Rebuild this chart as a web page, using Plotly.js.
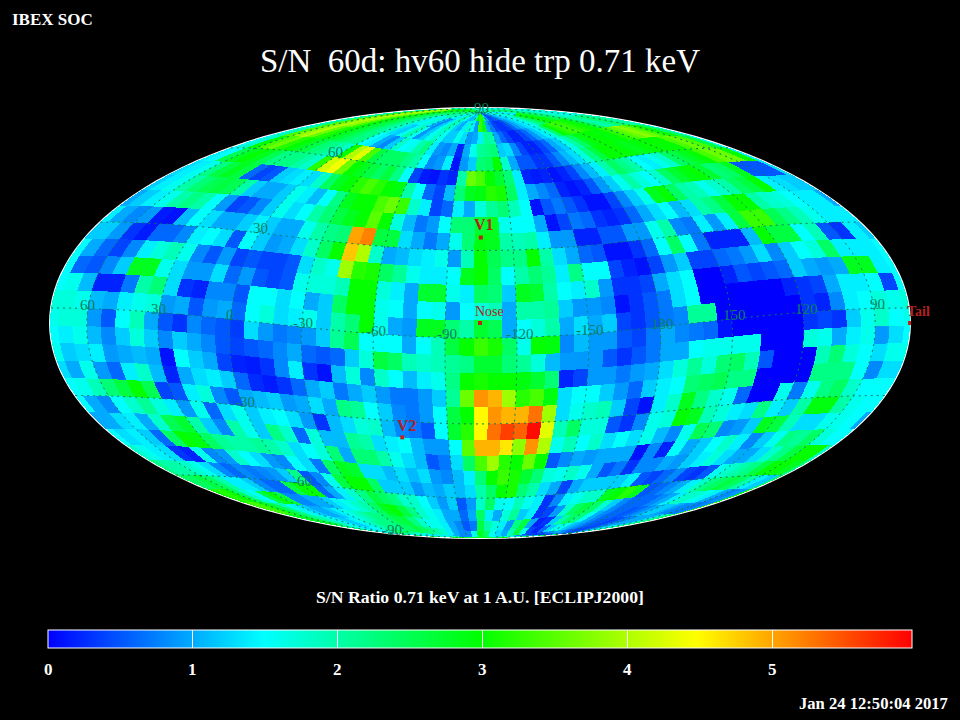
<!DOCTYPE html>
<html><head><meta charset="utf-8">
<script src="https://cdn.plot.ly/plotly-3.0.1.min.js"></script>
<style>
html,body{margin:0;padding:0;background:#000}
path.choroplethlocation{shape-rendering:crispEdges}
</style></head><body><div id="chart" style="width:960px;height:720px"></div>
<script>
// S/N per 6-degree sky bin. Rows run north to south; columns run left to right on the map.
const lat84=[1.6,1.8,2.2,2.5,2.8,3.0,3.0,3.0,2.8,2.6,2.4,2.4,2.2,2.2,2.0,2.0,2.0,1.8,1.6,1.4,1.4,1.8,2.0,2.0,1.5,1.2,1.0,1.2,2.0,2.8,3.3,3.2,2.2,1.0,0.5,0.4,0.5,0.6,0.8,1.0,1.2,1.2,1.4,1.4,1.6,1.8,1.8,1.6,1.4,1.4,1.6,2.0,2.2,2.4,2.4,2.2,2.0,1.8,1.6,1.6];
const lat78=[1.8,2.2,3.4,3.8,4.0,3.8,3.4,3.0,2.8,2.6,2.4,2.2,2.0,1.8,1.4,1.6,1.8,1.4,1.0,0.8,1.2,1.6,2.0,1.8,1.2,1.0,1.4,1.8,1.4,0.9,3.3,2.8,1.0,0.7,0.4,0.3,0.3,0.4,0.6,0.9,1.1,1.3,1.4,1.5,1.8,2.2,2.4,2.8,3.0,3.0,2.8,2.5,2.4,2.2,2.0,1.8,1.6,1.7,1.6,1.6];
const lat72=[1.8,2.2,3.4,3.8,4.0,3.8,3.4,3.0,2.8,2.6,2.4,2.2,2.0,1.8,1.3,1.2,1.6,2.0,1.6,0.9,1.2,1.6,1.8,1.6,1.2,1.2,1.6,1.3,0.9,1.0,1.4,2.1,2.0,1.0,0.6,0.4,0.2,0.2,0.4,0.6,0.9,1.2,1.4,1.7,2.4,3.0,3.2,3.3,3.3,3.2,3.1,3.0,2.8,2.4,2.0,2.0,2.2,2.4,2.2,2.0];
const lat66=[1.6,2.0,3.4,3.8,4.0,3.6,3.2,3.0,2.8,2.6,2.4,2.2,2.2,1.5,1.4,1.0,0.8,1.2,1.8,1.5,1.6,2.0,2.2,1.4,0.9,0.8,1.0,0.2,1.0,1.6,2.1,2.2,2.3,1.2,1.3,0.8,0.4,0.2,0.2,0.4,0.6,1.0,1.2,1.6,2.0,2.4,2.8,3.0,3.0,3.0,2.9,3.0,3.2,3.4,3.6,3.8,3.6,3.3,3.0,2.4];
const lat60=[1.5,1.8,3.0,3.4,3.6,3.2,3.0,2.8,2.6,2.3,2.2,2.0,1.8,3.0,4.0,4.3,3.4,2.6,2.4,2.4,2.4,2.2,2.0,1.5,0.8,0.9,1.4,0.1,0.9,1.2,2.3,2.4,3.0,1.8,1.0,0.5,0.5,0.3,0.3,0.5,0.8,1.1,1.3,1.7,2.2,2.6,3.0,3.0,3.0,2.9,2.8,2.9,3.0,3.0,3.0,3.0,3.4,3.6,3.4,2.6];
const lat54=[1.4,1.5,2.5,2.8,3.0,2.8,2.5,2.2,2.2,2.2,2.0,1.8,3.2,4.2,4.4,3.6,3.0,2.8,2.6,2.4,2.6,2.2,1.5,0.4,0.15,0.1,0.3,0.2,2.0,3.6,3.4,3.0,2.7,2.3,1.4,0.2,0.15,0.2,0.1,0.2,0.4,0.8,1.1,1.4,2.0,2.4,2.2,2.0,1.5,1.4,1.6,1.8,2.4,2.6,2.8,3.0,3.4,3.6,3.6,3.0];
const lat48=[1.3,1.4,1.6,2.2,2.6,2.8,2.6,0.6,0.4,0.5,1.2,1.3,1.4,1.3,1.8,2.4,2.8,3.0,3.2,3.4,3.2,3.0,2.9,2.0,1.5,0.6,0.4,1.1,2.3,2.8,2.9,3.2,3.1,2.4,1.4,1.0,0.8,0.6,0.2,0.1,0.2,0.5,0.9,1.2,1.6,2.0,1.7,1.5,1.8,2.4,2.7,2.9,3.0,2.7,2.3,2.4,2.8,0.5,0.5,0.5];
const lat42=[1.2,1.4,1.6,2.0,2.3,2.5,2.6,2.5,2.0,1.2,1.0,1.0,1.2,1.6,1.4,1.1,1.5,2.2,2.8,3.0,3.0,3.4,3.6,3.3,1.8,1.4,0.4,0.6,1.4,1.0,1.7,2.1,2.3,1.9,1.5,0.1,0.5,0.7,0.5,0.3,0.1,0.1,0.4,0.8,1.2,1.6,2.8,3.0,2.4,2.0,1.9,1.6,1.8,2.0,2.4,2.6,3.0,1.4,1.3,1.2];
const lat36=[1.0,1.2,1.4,1.6,2.0,2.2,2.0,1.5,0.9,0.4,0.5,0.8,1.2,1.6,1.3,1.5,2.0,2.3,2.6,2.8,3.0,3.5,3.0,1.7,1.1,0.7,0.9,1.5,2.3,2.3,2.7,2.8,1.6,1.5,1.5,1.0,0.1,0.4,0.7,0.6,0.3,0.2,0.3,0.6,1.0,1.3,1.5,1.1,1.3,2.0,2.2,2.6,3.0,3.0,2.0,1.8,1.7,1.5,1.4,1.4];
const lat30=[1.4,1.0,0.8,0.9,0.15,0.1,1.1,1.5,1.3,1.0,1.0,1.2,1.4,1.2,1.0,1.0,1.6,2.0,2.2,2.3,5.0,5.2,2.6,2.6,1.3,1.0,0.7,1.0,1.6,2.3,2.9,2.8,2.0,1.9,2.0,1.4,0.9,0.9,0.2,0.2,0.5,0.5,0.9,0.9,1.6,2.0,0.8,0.7,1.4,0.9,1.4,2.6,3.3,3.3,2.5,2.2,1.9,1.6,1.4,1.4];
const lat24=[1.2,1.2,0.9,0.3,0.15,0.6,0.6,0.8,1.4,1.5,1.3,0.5,1.5,1.2,0.9,1.0,1.3,1.8,2.4,3.0,4.8,4.0,1.8,1.0,1.1,1.3,1.4,1.6,0.9,1.9,3.0,2.5,2.2,2.2,3.0,2.0,1.3,1.0,0.6,0.5,0.1,0.1,0.3,0.6,1.5,2.4,1.5,0.7,0.2,0.2,0.2,1.1,3.0,2.6,2.6,1.5,1.9,0.5,0.3,1.4];
const lat18=[1.5,1.0,0.6,0.4,0.8,1.4,1.7,1.9,1.6,0.8,0.5,0.9,0.4,0.5,0.4,0.4,0.5,1.3,1.8,1.6,3.9,3.2,3.1,2.4,2.1,1.6,1.4,1.4,1.5,2.8,3.0,2.4,1.5,2.0,2.3,2.1,1.4,2.2,1.5,1.5,0.4,0.2,0.1,0.4,0.9,1.2,0.4,0.4,0.6,0.7,0.9,1.3,0.8,1.2,1.5,1.7,2.4,1.4,1.4,1.4];
const lat12=[1.5,0.6,0.5,0.8,1.2,2.8,2.8,1.6,1.3,0.9,0.9,1.3,0.6,0.9,0.5,0.4,0.5,1.6,1.7,1.7,1.9,3.0,3.0,1.7,1.4,1.0,2.7,2.7,1.6,1.4,2.4,2.3,1.2,2.8,2.7,2.0,1.5,1.4,1.8,0.9,0.3,0.3,0.4,1.0,1.3,1.5,0.0,0.0,0.2,0.5,0.4,0.5,0.6,1.2,1.0,0.9,1.0,2.8,2.8,1.4];
const lat6=[1.5,1.6,1.1,0.2,0.2,0.7,2.0,2.3,1.3,0.3,0.2,0.8,0.8,0.5,1.5,1.5,1.3,1.5,1.0,1.2,2.4,3.0,3.0,1.6,1.5,1.0,1.5,1.6,0.9,1.5,1.7,1.9,1.0,2.0,2.0,2.1,1.2,0.9,0.9,0.8,0.1,0.3,0.5,0.7,1.3,1.5,0.0,0.0,0.0,0.0,0.0,0.0,0.2,0.3,0.4,1.0,1.4,1.4,1.5,0.4];
const lat0=[1.7,1.7,1.6,1.1,1.0,1.4,1.6,1.7,0.9,1.0,0.5,0.9,1.0,0.6,1.5,1.7,1.3,1.4,1.6,1.2,2.0,2.3,3.0,1.6,1.0,0.9,2.8,2.8,2.3,2.0,2.7,2.5,1.0,1.5,1.7,2.0,1.0,1.3,1.0,1.2,0.4,0.3,0.5,0.7,0.8,2.1,2.1,0.0,0.0,0.0,0.0,0.0,0.0,0.3,0.2,0.8,1.4,1.5,1.7,1.6];
const latM6=[1.6,1.7,1.7,0.9,0.5,1.5,1.9,1.0,0.5,0.3,0.8,0.6,0.5,0.35,1.3,0.9,0.7,0.8,0.9,1.2,2.1,2.5,1.5,1.5,1.5,1.0,1.5,1.9,2.6,3.0,3.3,3.1,2.4,1.6,3.0,2.9,0.8,1.1,0.9,0.9,0.5,0.4,0.7,1.0,0.8,0.7,0.6,0.1,0.0,0.0,0.0,0.0,0.0,0.3,0.4,0.3,1.2,1.6,1.8,1.5];
const latM12=[1.5,1.4,1.6,1.1,0.8,1.2,1.7,1.2,0.8,1.2,1.0,0.8,0.5,0.4,0.5,0.6,0.8,1.0,0.6,0.5,0.6,1.2,1.7,2.6,2.4,1.9,1.8,1.9,2.1,2.2,2.7,2.7,2.3,2.1,1.7,1.1,0.9,0.9,0.9,0.5,0.3,0.5,0.7,1.0,1.0,1.5,1.6,1.6,1.6,1.6,0.0,0.0,0.0,1.7,1.6,1.0,1.4,1.6,0.9,1.3];
const latM18=[1.6,1.2,1.3,1.4,0.9,1.0,1.1,1.0,0.1,1.5,1.2,1.0,0.4,0.2,0.15,0.3,0.8,1.4,0.3,0.1,1.1,1.7,0.8,1.8,1.5,1.1,1.4,1.6,2.2,3.0,3.1,3.0,3.0,2.9,2.7,2.3,0.2,0.4,0.9,0.9,0.7,0.9,1.0,1.3,1.7,2.1,1.7,2.3,2.4,1.9,0.5,0.0,0.0,0.0,1.9,2.3,1.7,1.5,1.3,1.6];
const latM24=[1.3,1.0,1.6,0.9,0.6,1.4,1.8,1.1,0.2,1.0,1.3,1.4,1.2,0.6,0.25,0.15,0.3,0.6,1.0,1.2,0.7,1.0,1.2,0.9,0.7,0.7,0.9,1.2,2.1,3.6,5.1,4.9,3.9,3.2,3.4,2.9,1.3,1.5,1.5,1.2,0.9,0.6,1.2,1.4,1.5,2.3,2.4,2.5,2.2,2.2,0.0,0.0,0.0,0.0,2.2,2.2,2.2,1.5,0.8,1.3];
const latM30=[1.5,1.6,1.9,2.3,2.6,3.0,2.5,0.4,0.5,1.4,1.7,0.8,0.5,1.0,1.1,1.2,0.9,1.0,1.3,1.0,2.2,2.1,1.5,1.2,0.8,0.7,0.9,1.5,2.6,3.0,4.5,5.1,4.9,4.9,5.3,3.9,1.3,1.6,1.8,1.9,1.2,0.4,0.1,1.4,1.8,2.8,2.2,1.8,1.6,0.6,0.0,0.0,1.6,0.7,1.6,2.2,2.4,1.8,1.5,1.5];
const latM36=[1.5,1.0,0.8,1.5,1.8,2.1,1.7,1.4,0.9,1.6,0.6,1.3,1.6,1.2,1.4,1.5,1.3,0.9,0.3,1.1,1.3,1.7,1.8,1.1,0.8,0.7,0.5,1.5,2.7,3.2,4.5,5.3,5.6,5.4,5.9,4.3,1.9,2.4,1.7,1.7,0.5,0.3,0.8,1.6,1.7,3.0,2.8,1.9,1.7,1.4,1.3,2.2,1.4,1.2,2.0,2.9,2.9,2.0,1.6,1.5];
const latM42=[1.0,1.0,1.3,1.4,1.0,1.8,2.5,2.7,2.0,1.2,0.8,2.0,1.6,1.2,2.2,1.8,0.6,1.7,1.1,1.1,2.1,2.0,1.3,1.4,1.5,1.1,0.9,0.9,1.5,3.5,4.9,4.9,4.6,3.8,5.1,4.0,1.6,1.9,1.5,1.8,1.3,1.5,1.3,1.6,1.1,0.8,1.6,2.5,2.3,0.8,0.9,1.2,2.8,2.6,1.9,1.3,1.3,1.6,1.6,1.5];
const latM48=[1.5,1.3,1.4,1.2,0.6,2.4,3.0,2.9,2.4,2.1,2.0,2.0,2.1,2.0,1.8,1.3,1.5,1.7,2.3,1.0,2.3,2.3,2.0,1.6,1.3,1.1,0.5,0.7,1.3,2.4,3.4,3.9,3.2,3.0,3.6,3.0,0.5,0.8,1.0,0.9,1.0,1.0,1.0,0.1,0.8,0.2,1.5,1.0,1.2,1.5,1.8,1.4,0.8,1.2,1.6,2.2,2.1,2.4,1.7,1.5];
const latM54=[1.8,1.6,1.4,1.3,0.3,0.2,1.6,0.8,0.9,1.8,1.5,1.3,0.9,0.8,1.5,1.3,0.7,2.4,2.8,2.7,1.3,1.3,1.1,1.3,1.1,1.3,0.9,0.8,1.1,1.4,2.3,3.0,3.3,3.1,2.7,2.3,1.7,1.6,1.8,1.6,1.0,0.5,0.7,0.3,0.8,0.8,1.0,0.9,1.2,1.4,1.7,1.3,1.0,1.0,1.3,1.8,2.2,2.6,3.0,3.0];
const latM60=[2.2,2.0,2.0,1.8,1.6,1.3,0.8,0.6,0.8,0.7,0.8,0.9,1.2,2.2,0.5,0.8,1.6,2.6,3.0,3.0,2.4,1.2,1.2,1.2,0.9,1.1,1.0,1.2,1.1,1.3,2.0,2.4,3.0,3.1,2.3,2.0,1.3,1.0,0.4,1.0,1.2,1.2,1.2,1.2,1.4,0.5,0.4,0.6,0.8,0.4,0.3,0.5,1.6,1.8,2.0,2.2,2.6,3.0,3.0,2.8];
const latM66=[2.4,2.4,2.6,2.4,2.0,1.4,1.4,1.2,0.8,0.6,0.6,2.6,3.0,3.0,0.6,1.0,1.4,1.8,2.2,2.6,2.4,2.2,1.8,1.8,1.5,1.2,0.9,1.2,0.5,0.9,1.8,2.4,1.6,1.5,1.9,1.6,1.4,0.3,0.8,1.4,1.6,1.8,1.8,2.8,3.0,3.2,2.8,0.5,0.6,0.8,1.0,1.4,1.8,2.2,2.4,2.6,2.4,2.0,1.4,1.2];
const latM72=[3.0,3.2,3.0,2.4,1.8,1.5,2.6,3.0,2.6,0.8,0.8,1.0,1.0,1.2,1.4,1.6,1.8,2.0,2.4,2.8,3.0,2.6,2.2,1.8,1.6,1.4,1.0,1.0,0.6,1.0,2.4,1.4,1.0,1.7,2.1,1.2,1.4,0.3,0.4,0.9,1.8,2.4,2.6,2.4,1.8,1.2,0.8,0.6,0.6,0.6,0.8,1.0,1.4,1.8,1.8,1.6,1.4,1.0,0.8,0.9];
const latM78=[3.2,3.4,3.2,2.8,2.4,2.0,1.6,1.4,1.2,1.0,1.0,1.2,1.4,1.6,1.8,2.0,2.2,2.2,2.4,2.6,2.6,2.2,1.8,1.6,1.6,1.4,1.0,0.8,0.5,0.7,2.6,2.0,1.7,1.4,0.9,2.2,2.6,1.0,0.2,0.3,1.2,2.0,2.4,2.2,1.6,1.0,0.8,0.6,0.6,0.5,0.6,0.8,1.0,1.2,1.2,1.0,0.8,0.8,0.7,0.8];
const latM84=[2.6,2.8,2.8,2.6,2.2,2.0,1.8,1.6,1.4,1.2,1.2,1.4,1.6,1.8,2.0,2.2,2.2,2.2,2.4,2.4,2.6,2.4,2.2,2.0,1.8,1.4,1.0,0.8,0.8,1.6,2.8,2.4,1.5,1.3,1.0,1.9,2.6,1.6,0.4,0.2,0.6,1.2,1.6,1.6,1.2,1.0,0.8,0.6,0.5,0.5,0.4,0.5,0.7,0.8,1.0,1.0,1.0,1.2,1.8,2.2];
const latM90=[2.4,2.4,2.2,2.0,1.8,1.6,1.5,1.4,1.4,1.4,1.5,1.6,1.8,2.0,2.2,2.4,2.4,2.4,2.2,2.0,1.8,1.6,1.5,1.4,1.4,1.6,1.8,2.2,2.6,2.8,3.0,2.8,2.4,2.0,1.6,1.2,0.8,0.5,0.3,0.3,0.4,0.6,0.8,1.0,1.0,0.8,0.6,0.5,0.4,0.4,0.4,0.5,0.6,0.8,1.0,1.2,1.4,1.6,1.8,2.2];
const rows=[lat84,lat78,lat72,lat66,lat60,lat54,lat48,lat42,lat36,lat30,lat24,lat18,lat12,lat6,lat0,latM6,latM12,latM18,latM24,latM30,latM36,latM42,latM48,latM54,latM60,latM66,latM72,latM78,latM84,latM90];
const rowSouthEdges=[84,78,72,66,60,54,48,42,36,30,24,18,12,6,0,-6,-12,-18,-24,-30,-36,-42,-48,-54,-60,-66,-72,-78,-84,-90];

const cbTicks=[0,1,2,3,4,5];
const zMax=5.96;
const noseLon=255.4, noseLat=5.1;
const gridLats=[-60,-30,0,30,60];
const gridLons=[0,30,60,90,120,150,180,210,240,270,300,330];
const mapPoints=[["Nose",255.4,5.1],["V1",255,34.6],["V2",291.4,-36],["Tail",75.4,-5.1]];
const lonLabels=["60","30","0","-30","-60","-90","-120","-150","180","150","120","90"];
const latLabels=["90","60","30","-30","-60","-90"];

// Base-map layers are not drawn here, so an empty topology stands in for the fetched one.
const emptyLayer={type:"GeometryCollection",geometries:[]};
const emptyTopo={type:"Topology",arcs:[],objects:{coastlines:emptyLayer,land:emptyLayer,ocean:emptyLayer,lakes:emptyLayer,rivers:emptyLayer,countries:emptyLayer,subunits:emptyLayer}};
window.PlotlyGeoAssets=window.PlotlyGeoAssets||{topojson:{}};
window.PlotlyGeoAssets.topojson=window.PlotlyGeoAssets.topojson||{};
["un/world_110m","world_110m","un_world_110m"].forEach(n=>{window.PlotlyGeoAssets.topojson[n]=emptyTopo;});

// the map shows longitude increasing to the left, centred on the Nose
const toU=lon=>{let u=noseLon-lon;while(u>180)u-=360;while(u<-180)u+=360;return u;};
// tilt the sphere so the Nose latitude sits on the map's horizontal axis
const DEG=Math.PI/180, ca=Math.cos(noseLat*DEG), sa=Math.sin(noseLat*DEG);
const tilt=(u,lat)=>{
  const x=Math.cos(lat*DEG)*Math.cos(u*DEG),y=Math.cos(lat*DEG)*Math.sin(u*DEG),z=Math.sin(lat*DEG);
  const x2=x*ca+z*sa,z2=z*ca-x*sa;
  return [Math.atan2(y,x2)/DEG,Math.asin(Math.max(-1,Math.min(1,z2)))/DEG];
};
const firstEdge=-182.6, binW=6, binH=6;

const features=[],locs=[],zs=[];
rows.forEach((row,r)=>{
  const s=rowSouthEdges[r],n=s+binH;
  row.forEach((v,c)=>{
    const w=firstEdge+c*binW,e=w+binW;
    const ring=[];
    for(let t=0;t<=3;t++)ring.push([w,s+t*binH/3]);
    for(let t=1;t<=3;t++)ring.push([w+t*binW/3,n]);
    for(let t=1;t<=3;t++)ring.push([e,n-t*binH/3]);
    for(let t=1;t<=3;t++)ring.push([e-t*binW/3,s]);
    const id=r+"_"+c;
    features.push({type:"Feature",id:id,properties:{},geometry:{type:"Polygon",coordinates:[ring.map(p=>tilt(p[0],p[1]))]}});
    locs.push(id);zs.push(v);
  });
});

const traces=[{
  type:"choropleth",geojson:{type:"FeatureCollection",features:features},
  locations:locs,z:zs,zmin:0,zmax:zMax,hoverinfo:"skip",
  marker:{line:{width:0}},
  colorscale:[[0,"#0000ff"],[0.25,"#00ffff"],[0.5,"#00ff00"],[0.75,"#ffff00"],[1,"#ff0000"]],
  colorbar:{orientation:"h",x:48/960,xanchor:"left",y:1-667/720,yanchor:"bottom",
    len:864,lenmode:"pixels",thickness:18,thicknessmode:"pixels",xpad:0,ypad:0,
    outlinecolor:"#ffffff",outlinewidth:1,borderwidth:0,
    tickmode:"array",tickvals:cbTicks,showticklabels:false,ticks:"inside",ticklen:18,tickwidth:1,tickcolor:"#ffffff"}
}];
const gridStyle={color:"#0a7a5a",width:1,dash:"2px,4px"};
gridLats.forEach(lat=>{
  const pts=[];
  for(let u=-180;u<=180;u+=3)pts.push(tilt(u,lat));
  traces.push({type:"scattergeo",mode:"lines",lon:pts.map(p=>p[0]),lat:pts.map(p=>p[1]),line:gridStyle,hoverinfo:"skip",showlegend:false});
});
gridLons.forEach(lon=>{
  const pts=[];
  for(let la=-90;la<=90;la+=3)pts.push(tilt(toU(lon),la));
  traces.push({type:"scattergeo",mode:"lines",lon:pts.map(p=>p[0]),lat:pts.map(p=>p[1]),line:gridStyle,hoverinfo:"skip",showlegend:false});
});
const markerPts=mapPoints.map(p=>tilt(toU(p[1]),p[2]));
traces.push({type:"scattergeo",mode:"markers",lon:markerPts.map(p=>p[0]),lat:markerPts.map(p=>p[1]),
  marker:{symbol:"square",size:4,color:"#c02020",line:{width:0}},hoverinfo:"skip",showlegend:false});

const note=(text,x,y,size,color,bold)=>({text:text,xref:"paper",yref:"paper",x:x/960,y:1-y/720,xanchor:"center",yanchor:"middle",showarrow:false,
  font:{family:"Liberation Serif",size:size,color:color,weight:bold?"bold":"normal"}});
const teal="#0a7f5f",red="#b22222";
const lonLabelX=[87,158,230,303,376,447,520,590,662,734,806,877];
const lonLabelY=[305,309,315,323,331,334,334,330,324,315,309,304];
const latLabelX=[481,335,260,245,302,392];
const latLabelY=[108,152,228,402,481,530];
const annotations=[
  note("IBEX SOC",52,19,17,"#fff",true),
  note("S/N\u00a0\u00a060d: hv60 hide trp 0.71 keV",480,61,33,"#fff"),
  note("S/N Ratio 0.71 keV at 1 A.U. [ECLIPJ2000]",480,597,17.7,"#fff",true),
  note("Jan 24 12:50:04 2017",873,703,16.6,"#fff",true),
  note("V1",484,224,16,red,true),note("Nose",489,311,14,red),note("V2",407,425,16,red,true),note("Tail",918,311,14,red,true)
];
cbTicks.forEach(t=>annotations.push(note(String(t),48+t/zMax*864,669,17,"#fff",true)));
lonLabels.forEach((t,i)=>annotations.push(note(t,lonLabelX[i],lonLabelY[i],15,teal)));
latLabels.forEach((t,i)=>annotations.push(note(t,latLabelX[i],latLabelY[i],15,teal)));

Plotly.newPlot("chart",traces,{
  width:960,height:720,paper_bgcolor:"#000",plot_bgcolor:"#000",margin:{l:0,r:0,t:0,b:0},showlegend:false,
  annotations:annotations,
  geo:{domain:{x:[48/960,912/960],y:[1-538/720,1-108/720]},bgcolor:"#000",
    projection:{type:"mollweide",rotation:{lon:0,lat:0,roll:0}},
    showframe:true,framecolor:"#ffffff",framewidth:2,
    showland:false,showocean:false,showlakes:false,showrivers:false,showcountries:false,showcoastlines:false,showsubunits:false,
    lonaxis:{showgrid:false,range:[-180,180]},lataxis:{showgrid:false,range:[-90,90]}}
},{staticPlot:true,displayModeBar:false});
</script></body></html>
